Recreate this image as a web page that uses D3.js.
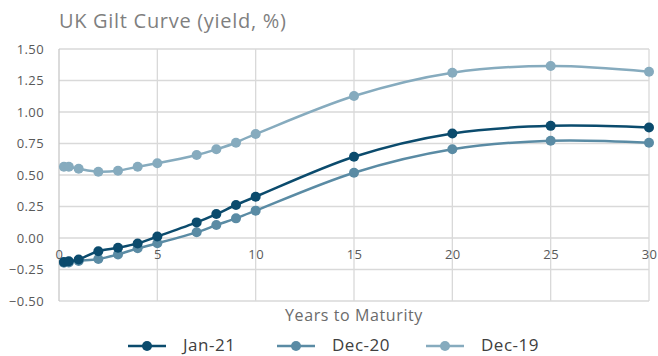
<!DOCTYPE html>
<html>
<head>
<meta charset="utf-8">
<script src="https://cdn.jsdelivr.net/npm/d3@7"></script>
<style>
  html, body { margin: 0; padding: 0; background: #fff; }
  svg { display: block; font-family: "Open Sans", Lato, sans-serif; }
</style>
</head>
<body>
<svg id="chart" width="658" height="356"></svg>
<script>
// Years to maturity for each point on the curve
const maturities = [0.25, 0.5, 1, 2, 3, 4, 5, 7, 8, 9, 10, 15, 20, 25, 30];

// Gilt yields (%) by curve date
const seriesNames = ["Jan-21", "Dec-20", "Dec-19"];
const jan21 = [-0.19, -0.185, -0.17, -0.105, -0.078, -0.043, 0.012, 0.124, 0.19, 0.262, 0.328, 0.645, 0.83, 0.89, 0.877];
const dec20 = [-0.197, -0.195, -0.182, -0.167, -0.13, -0.082, -0.042, 0.045, 0.103, 0.156, 0.217, 0.518, 0.704, 0.772, 0.756];
const dec19 = [0.566, 0.566, 0.55, 0.526, 0.534, 0.566, 0.593, 0.659, 0.704, 0.756, 0.825, 1.127, 1.312, 1.365, 1.32];
const seriesColors = ["#0b4b6d", "#5a8ba4", "#86abbe"];

const xTicks = [0, 5, 10, 15, 20, 25, 30];
const yTicks = [-0.5, -0.25, 0, 0.25, 0.5, 0.75, 1.0, 1.25, 1.5];

const svg = d3.select("#chart");

const x = d3.scaleLinear().domain([0, 30]).range([59, 649]);
const y = d3.scaleLinear().domain([-0.5, 1.5]).range([301, 49]);

// Title
svg.append("text")
  .attr("x", 59).attr("y", 28)
  .attr("fill", "#7f7f7f")
  .attr("font-size", 20)
  .attr("letter-spacing", 0.7)
  .text("UK Gilt Curve (yield, %)");

// Horizontal gridlines
svg.append("g")
  .selectAll("line")
  .data(yTicks)
  .join("line")
  .attr("x1", x(0)).attr("x2", x(30))
  .attr("y1", d => y(d)).attr("y2", d => y(d))
  .attr("stroke", "#d9d9d9")
  .attr("stroke-width", 1.3);

// Vertical gridlines
svg.append("g")
  .selectAll("line")
  .data(xTicks)
  .join("line")
  .attr("x1", d => x(d)).attr("x2", d => x(d))
  .attr("y1", y(1.5)).attr("y2", y(-0.5))
  .attr("stroke", d => d === 0 ? "#c8c8c8" : "#d9d9d9")
  .attr("stroke-width", 1.3);

// Y axis labels
const yAxis = d3.axisLeft(y)
  .tickValues(yTicks)
  .tickFormat(d3.format(".2f"))
  .tickSize(0)
  .tickPadding(0);
const gy = svg.append("g")
  .attr("transform", "translate(44,0)")
  .call(yAxis);
gy.select(".domain").remove();
gy.selectAll("text")
  .attr("fill", "#595959")
  .attr("font-size", 13)
  .attr("letter-spacing", 0.4)
  .attr("font-family", "'Open Sans', sans-serif");

// X axis labels sit along the zero line
const xAxis = d3.axisBottom(x)
  .tickValues(xTicks)
  .tickFormat(d3.format("d"))
  .tickSize(0)
  .tickPadding(12);
const gx = svg.append("g")
  .attr("transform", `translate(0,${y(0)})`)
  .call(xAxis);
gx.select(".domain").remove();
gx.selectAll("text")
  .attr("fill", "#595959")
  .attr("font-size", 13)
  .attr("letter-spacing", 0.4)
  .attr("font-family", "'Open Sans', sans-serif");

// Axis title
svg.append("text")
  .attr("x", 354).attr("y", 321)
  .attr("text-anchor", "middle")
  .attr("fill", "#6b6b6b")
  .attr("font-size", 16)
  .attr("letter-spacing", 0.6)
  .text("Years to Maturity");

// Curves
const allSeries = [jan21, dec20, dec19];
const line = d3.line()
  .x((d, i) => x(maturities[i]))
  .y(d => y(d))
  .curve(d3.curveCardinal.tension(0));

// Draw back-to-front so Jan-21 sits on top
[2, 1, 0].forEach(k => {
  const g = svg.append("g");
  g.append("path")
    .datum(allSeries[k])
    .attr("d", line)
    .attr("fill", "none")
    .attr("stroke", seriesColors[k])
    .attr("stroke-width", 2.5);
  g.selectAll("circle")
    .data(allSeries[k])
    .join("circle")
    .attr("cx", (d, i) => x(maturities[i]))
    .attr("cy", d => y(d))
    .attr("r", 5)
    .attr("fill", seriesColors[k]);
});

// Legend
const legendX = [128, 277, 426];
const legend = svg.append("g");
seriesNames.forEach((name, k) => {
  const lx = legendX[k];
  legend.append("line")
    .attr("x1", lx).attr("x2", lx + 38)
    .attr("y1", 346).attr("y2", 346)
    .attr("stroke", seriesColors[k])
    .attr("stroke-width", 2.5);
  legend.append("circle")
    .attr("cx", lx + 19).attr("cy", 346)
    .attr("r", 5)
    .attr("fill", seriesColors[k]);
  legend.append("text")
    .attr("x", lx + 55).attr("y", 351)
    .attr("fill", "#404040")
    .attr("font-size", 17)
    .attr("letter-spacing", 0.5)
    .text(name);
});
</script>
</body>
</html>
